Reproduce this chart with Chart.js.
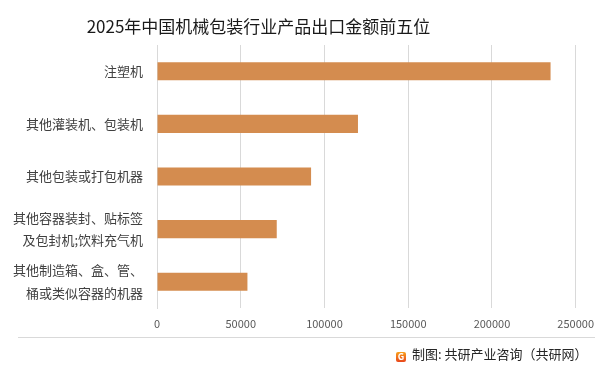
<!DOCTYPE html>
<html>
<head>
<meta charset="utf-8">
<script src="https://cdn.jsdelivr.net/npm/chart.js@4.4.1/dist/chart.umd.min.js"></script>
<style>
  html, body { margin: 0; padding: 0; background: #fff; }
  #wrap { position: relative; width: 603px; height: 368px; overflow: hidden; font-family: "Noto Sans CJK SC", sans-serif; }
  #title { position: absolute; top: 14px; left: 0; width: 517px; text-align: center; font-size: 17px; color: #1a1a1a; line-height: 24px; }
  #sep { position: absolute; left: 18px; top: 337px; width: 577px; height: 1px; background: #d9d9d9; }
  #source { position: absolute; top: 344px; left: 396px; font-size: 13px; color: #262626; line-height: 20px; white-space: nowrap; }
  #logo { display: inline-block; width: 10px; height: 10px; border-radius: 2px; background: linear-gradient(#f9a11b, #e8461c); color: #fff; font-size: 9px; font-weight: bold; line-height: 10px; text-align: center; vertical-align: -1px; margin-right: 6px; }
  canvas { position: absolute; left: 0; top: 0; }
</style>
</head>
<body>
<div id="wrap">
  <canvas id="BarChart" width="603" height="368"></canvas>
  <div id="title">2025年中国机械包装行业产品出口金额前五位</div>
  <div id="sep"></div>
  <div id="source"><span id="logo">G</span>制图: 共研产业咨询（共研网）</div>
</div>
<script>
let productLabels = [
    '注塑机',
    '其他灌装机、包装机',
    '其他包装或打包机器',
    ['其他容器装封、贴标签', '及包封机;饮料充气机'],
    ['其他制造箱、盒、管、', '桶或类似容器的机器']
];

let exportValues = [235000, 120000, 92000, 71500, 54000];

let xTicks = [0, 50000, 100000, 150000, 200000, 250000];

Chart.defaults.font.family = '"Noto Sans CJK SC", sans-serif';

let barChartData = {
    labels: productLabels,
    datasets: [{
        label: '出口金额',
        data: exportValues,
        backgroundColor: '#d48c4f',
        categoryPercentage: 1,
        barPercentage: 0.345
    }]
};

function InitializeBarChart(chartObject, chartData) {
    window.barChart = new Chart(chartObject, {
        type: 'bar',
        data: chartData,
        options: {
            indexAxis: 'y',
            responsive: false,
            animation: false,
            layout: { padding: { top: 45, right: 25, bottom: 0, left: 0 } },
            plugins: {
                legend: { display: false },
                tooltip: { enabled: false }
            },
            scales: {
                x: {
                    min: 0,
                    max: 250000,
                    afterFit: function (scale) { scale.height = 60; },
                    afterBuildTicks: function (scale) {
                        scale.ticks = xTicks.map(function (v) { return { value: v }; });
                    },
                    grid: { color: '#d9d9d9', drawTicks: false },
                    border: { display: false },
                    ticks: {
                        padding: 9,
                        color: '#595959',
                        font: { size: 11 },
                        maxRotation: 0,
                        callback: function (value) { return String(value); }
                    }
                },
                y: {
                    afterFit: function (scale) { scale.width = 157; },
                    grid: { display: false, drawTicks: false },
                    border: { display: true, color: '#d9d9d9' },
                    ticks: {
                        padding: 14,
                        color: '#404040',
                        font: { size: 13, lineHeight: 1.75 }
                    }
                }
            }
        }
    });
}

InitializeBarChart(document.getElementById('BarChart').getContext('2d'), barChartData);
</script>
</body>
</html>
